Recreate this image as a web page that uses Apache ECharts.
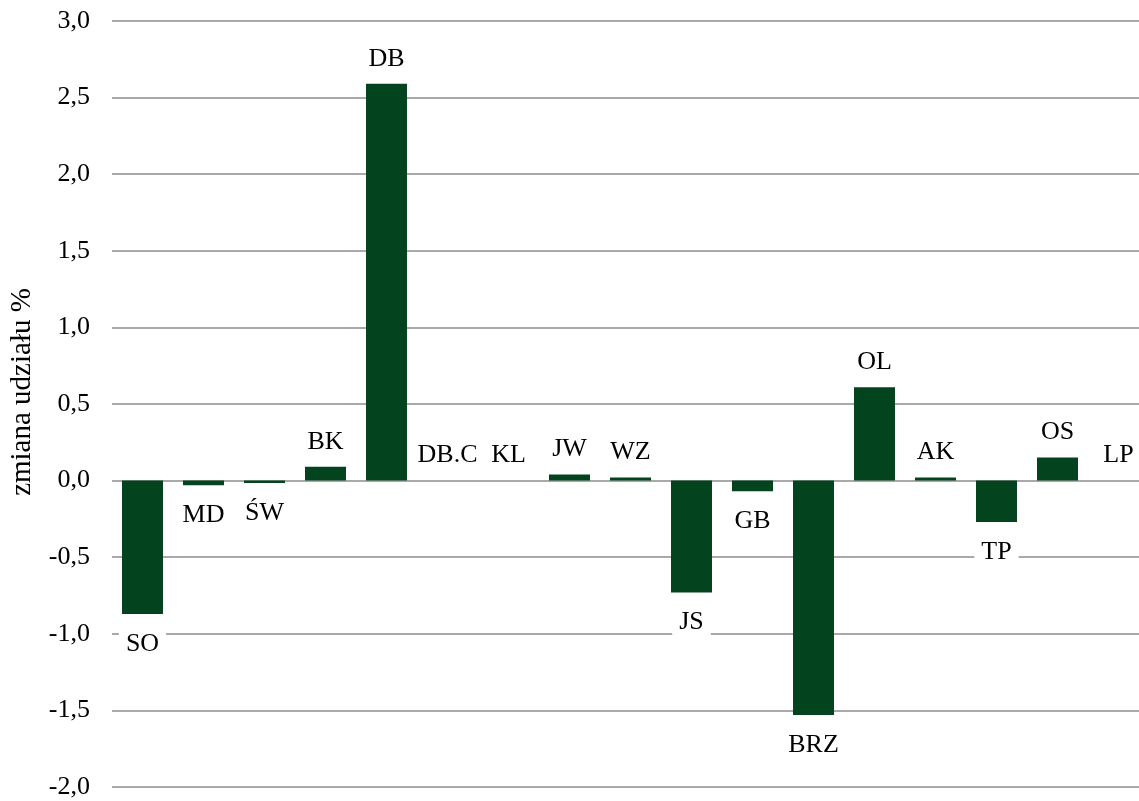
<!DOCTYPE html>
<html>
<head>
<meta charset="utf-8">
<script src="https://cdn.jsdelivr.net/npm/echarts@6/dist/echarts.min.js"></script>
<style>
html,body{margin:0;padding:0;background:#fff;overflow:hidden;width:1139px;height:801px;}
#chart{width:1149px;height:801px;}
</style>
</head>
<body>
<div id="chart"></div>
<script>
const categories = ['SO','MD','ŚW','BK','DB','DB.C','KL','JW','WZ','JS','GB','BRZ','OL','AK','TP','OS','LP'];
const values = [-0.87,-0.03,-0.015,0.09,2.59,0,0,0.04,0.02,-0.73,-0.07,-1.53,0.61,0.02,-0.27,0.15,0];
const axisName = 'zmiana udziału %';
const yMin = -2, yMax = 3, yStep = 0.5;

const FONT = '"Liberation Serif","Times New Roman",serif';
const chart = echarts.init(document.getElementById('chart'));

const data = values.map(function(v){
  const neg = v < 0;
  return {
    value: v,
    label: {
      position: neg ? 'bottom' : 'top',
      distance: neg ? 17 : 12
    }
  };
});

chart.setOption({
  animation: false,
  backgroundColor: '#ffffff',
  grid: {left: 112, right: 0, top: 21, bottom: 14, containLabel: false},
  xAxis: {
    type: 'category',
    data: categories,
    axisLine: {show: false},
    axisTick: {show: false},
    axisLabel: {show: false},
    splitLine: {show: false}
  },
  yAxis: {
    type: 'value',
    min: yMin, max: yMax, interval: yStep,
    axisLine: {show: false},
    axisTick: {show: false},
    axisLabel: {
      margin: 22,
      fontFamily: FONT,
      fontSize: 26,
      color: '#000',
      formatter: function(v){ return v.toFixed(1).replace('.', ','); }
    },
    splitLine: {show: true, lineStyle: {color: '#8c8c8c', width: 1.5}}
  },
  graphic: [{
    type: 'text',
    x: 22, y: 392,
    rotation: Math.PI / 2,
    style: {
      text: axisName,
      fontFamily: FONT,
      fontSize: 29,
      fill: '#000',
      textAlign: 'center',
      textVerticalAlign: 'middle'
    }
  }],
  series: [{
    type: 'bar',
    data: data,
    barWidth: 41,
    itemStyle: {color: '#03441f'},
    label: {
      show: true,
      formatter: function(p){ return categories[p.dataIndex]; },
      fontFamily: FONT,
      fontSize: 26,
      lineHeight: 26,
      color: '#000',
      backgroundColor: '#ffffff',
      padding: [0, 7]
    }
  }]
});
</script>
</body>
</html>
